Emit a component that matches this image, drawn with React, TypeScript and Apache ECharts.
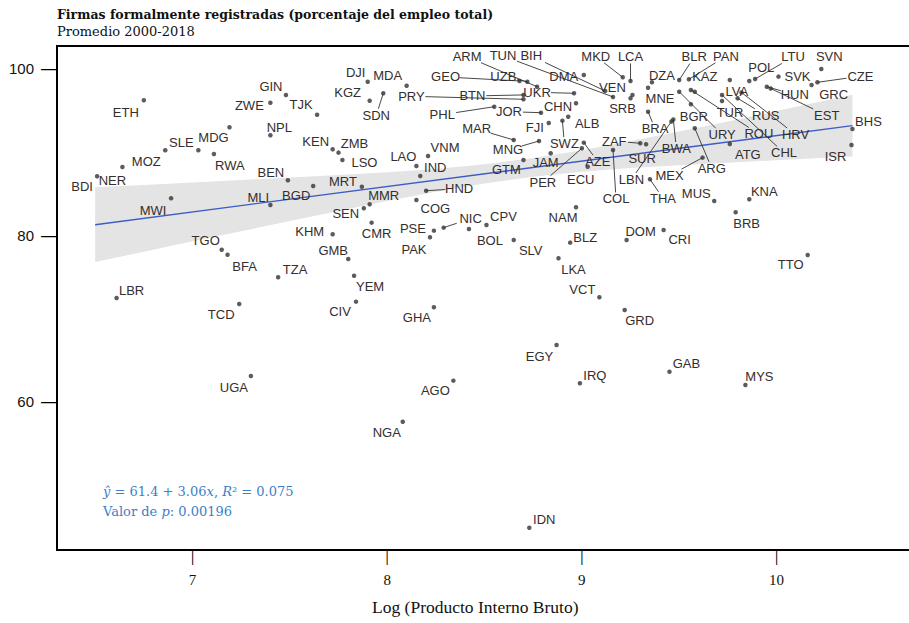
import React, { useEffect, useRef } from "react";
import * as echarts from "echarts";

// ISO3 country codes (each row = 10 countries)
const codes = [
  "BDI", "NER", "MOZ", "SLE", "MDG", "RWA", "ETH", "GIN", "ZWE", "TJK",
  "NPL", "BEN", "BGD", "MLI", "MWI", "KEN", "ZMB", "LSO", "KHM", "MRT",
  "SEN", "MMR", "CMR", "GMB", "YEM", "CIV", "TGO", "BFA", "TZA", "LBR",
  "TCD", "UGA", "AGO", "NGA", "GHA", "DJI", "MDA", "KGZ", "SDN", "PRY",
  "BTN", "GEO", "UZB", "ARM", "TUN", "BIH", "DMA", "MKD", "LCA", "VEN",
  "SRB", "UKR", "CHN", "JOR", "PHL", "FJI", "ALB", "SWZ", "MAR", "MNG",
  "VNM", "LAO", "IND", "HND", "COG", "GTM", "JAM", "PER", "AZE", "ECU",
  "ZAF", "SUR", "COL", "BRA", "LBN", "BWA", "THA", "MEX", "ARG", "MUS",
  "KNA", "BRB", "DOM", "CRI", "TTO", "GRD", "GAB", "MYS", "IRQ", "EGY",
  "IDN", "VCT", "LKA", "BLZ", "NAM", "SLV", "BOL", "CPV", "NIC", "PSE",
  "PAK", "BGR", "URY", "ROU", "HRV", "CHL", "TUR", "RUS", "LVA", "BLR",
  "PAN", "KAZ", "DZA", "MNE", "POL", "LTU", "SVK", "SVN", "CZE", "GRC",
  "HUN", "EST", "BHS", "ISR", "ATG",
];

// Log (GDP) — same order as codes
const logGdp = [
  6.51, 6.64, 6.86, 7.03, 7.19, 7.11, 6.75, 7.48, 7.40, 7.64,
  7.40, 7.49, 7.62, 7.40, 6.89, 7.72, 7.75, 7.77, 7.72, 7.87,
  7.88, 7.91, 7.92, 7.80, 7.83, 7.84, 7.15, 7.18, 7.44, 6.61,
  7.24, 7.30, 8.34, 8.08, 8.24, 7.90, 8.10, 7.91, 7.98, 8.70,
  8.70, 8.68, 8.72, 8.77, 9.16, 9.12, 9.01, 9.21, 9.25, 9.26,
  9.25, 8.96, 8.97, 8.79, 8.55, 8.83, 8.93, 8.90, 8.65, 8.78,
  8.21, 8.15, 8.17, 8.20, 8.15, 8.70, 8.84, 9.00, 9.01, 9.03,
  9.30, 9.33, 9.16, 9.34, 9.46, 9.47, 9.35, 9.62, 9.58, 9.68,
  9.86, 9.79, 9.23, 9.42, 10.16, 9.22, 9.45, 9.84, 8.99, 8.87,
  8.73, 9.09, 8.88, 8.94, 8.97, 8.65, 8.42, 8.51, 8.29, 8.24,
  8.22, 9.56, 9.50, 9.56, 9.82, 9.72, 9.72, 9.80, 9.76, 9.50,
  9.55, 9.58, 9.36, 9.34, 9.86, 9.89, 10.01, 10.23, 10.21, 10.18,
  9.95, 9.97, 10.39, 10.385, 9.76,
];

// Formally registered firms (% of total employment) — same order as codes
const formalShare = [
  87.11, 88.23, 90.23, 90.23, 93.00, 89.79, 96.24, 96.88, 95.95, 94.51,
  92.04, 86.63, 85.95, 83.66, 84.47, 90.35, 89.95, 89.07, 80.14, 85.86,
  83.27, 83.75, 81.54, 77.18, 75.17, 72.05, 78.29, 77.69, 74.98, 72.49,
  71.77, 63.12, 62.56, 57.63, 71.38, 98.47, 97.99, 96.19, 97.08, 96.36,
  96.88, 98.56, 98.47, 97.87, 96.64, 97.36, 99.28, 99.00, 98.56, 96.88,
  96.48, 97.08, 95.88, 94.75, 95.47, 93.51, 94.27, 93.79, 91.47, 91.35,
  89.55, 88.35, 87.15, 85.38, 84.26, 89.07, 89.87, 90.47, 91.15, 88.26,
  91.08, 90.95, 90.27, 94.87, 93.69, 93.93, 86.75, 89.35, 92.88, 84.14,
  84.35, 82.79, 79.46, 80.66, 77.66, 71.05, 63.64, 62.04, 62.25, 66.85,
  44.90, 72.58, 77.26, 79.14, 83.39, 79.46, 80.78, 81.26, 80.94, 80.58,
  79.78, 95.76, 97.27, 97.48, 97.18, 96.88, 96.16, 96.48, 98.68, 98.68,
  98.76, 97.27, 98.40, 97.75, 98.56, 98.80, 99.08, 100.00, 98.40, 98.08,
  97.87, 97.66, 92.79, 90.87, 90.99,
];

// Axis ticks and ranges
const xTicks = [7, 8, 9, 10];
const yTicks = [60, 80, 100];
const xRange = [6.304, 10.701];
const yRange = [42.22, 102.76];

// Fitted regression line (ŷ = 61.4 + 3.06x) end points
const fitX = [6.5, 10.39];
const fitY = [81.29, 93.19];

// Confidence band of the fit
const bandX = [6.5, 6.75, 7.0, 7.25, 7.5, 7.75, 8.0, 8.25, 8.5, 8.75, 9.0, 9.25, 9.5, 9.75, 10.0, 10.25, 10.39];
const bandLow = [76.8, 78.05, 79.3, 80.5, 81.75, 82.95, 84.15, 85.25, 86.25, 87.05, 87.65, 88.1, 88.45, 88.75, 89.05, 89.35, 89.5];
const bandHigh = [85.8, 86.05, 86.35, 86.65, 86.95, 87.25, 87.6, 88.0, 88.55, 89.3, 90.25, 91.35, 92.5, 93.7, 94.95, 96.2, 96.9];

const titleText = "Firmas formalmente registradas (porcentaje del empleo total)";
const subtitleText = "Promedio 2000-2018";
const xTitle = "Log (Producto Interno Bruto)";

// Layout only: label centre offsets (px) relative to each point (repelled labels)
const labelOffsets: Record<string, [number, number]> = {
  BDI: [-15, 10], NER: [-10, 14], MOZ: [-19, 11], SLE: [-17, -8], MDG: [-16, 10],
  RWA: [16, 12], ETH: [-18, 12], GIN: [-15, -8], ZWE: [-21, 3], TJK: [-16, -10],
  NPL: [9, -8], BEN: [-17, -8], BGD: [-17, 10], MLI: [-12, -8], MWI: [-18, 12],
  KEN: [-17, -8], ZMB: [16, -9], LSO: [22, 3], KHM: [-23, -3], MRT: [-19, -5],
  SEN: [-18, 5], MMR: [14, -9], CMR: [5, 11], GMB: [-15, -8], YEM: [16, 11],
  CIV: [-16, 10], TGO: [-16, -9], BFA: [17, 12], TZA: [17, -8], LBR: [15, -8],
  TCD: [-18, 11], UGA: [-17, 11], AGO: [-18, 10], NGA: [-16, 11], GHA: [-17, 10],
  DJI: [-12, -9], MDA: [-19, -10], KGZ: [-22, -8], SDN: [-7, 22], PRY: [-112, -3],
  BTN: [-51, 1], GEO: [-74, -4], UZB: [-24, -5], ARM: [-70, -30], TUN: [-110, -41],
  BIH: [-74, -35], DMA: [-20, 2], MKD: [-27, -21], LCA: [0, -24], VEN: [-20, -7],
  SRB: [-8, 10], UKR: [-37, -1], CHN: [-18, 3], JOR: [-32, -1], PHL: [-52, 8],
  FJI: [-14, 4], ALB: [19, 7], SWZ: [2, 23], MAR: [-37, -11], MNG: [-31, 9],
  VNM: [17, -8], LAO: [-13, -9], IND: [15, -8], HND: [33, -2], COG: [19, 8],
  GTM: [-17, 10], JAM: [-5, 9], PER: [-39, 34], AZE: [14, 19], ECU: [-7, 13],
  ZAF: [-26, -2], SUR: [-4, 14], COL: [3, 49], BRA: [7, 17], LBN: [-40, 58],
  BWA: [3, 29], THA: [13, 19], MEX: [-33, 18], ARG: [17, 40], MUS: [-18, -8],
  KNA: [15, -8], BRB: [11, 11], DOM: [14, -8], CRI: [16, 10], TTO: [-17, 10],
  GRD: [15, 11], GAB: [17, -8], MYS: [14, -8], IRQ: [15, -8], EGY: [-17, 12],
  IDN: [15, -8], VCT: [-17, -8], LKA: [15, 11], BLZ: [15, -5], NAM: [-13, 10],
  SLV: [17, 11], BOL: [21, 12], CPV: [17, -8], NIC: [27, -9], PSE: [-21, -2],
  PAK: [-16, 12], BGR: [3, 12], URY: [43, 43], ROU: [68, 44], HRV: [54, 42],
  CHL: [62, 58], TUR: [8, 12], RUS: [28, 17], LVA: [7, 12], BLR: [15, -23],
  PAN: [37, -23], KAZ: [10, -15], DZA: [10, -7], MNE: [12, 11], POL: [12, -13],
  LTU: [38, -22], SVK: [19, 0], SVN: [8, -12], CZE: [43, -6], GRC: [22, 10],
  HUN: [28, 8], EST: [56, 27], BHS: [16, -8], ISR: [-16, 12], ATG: [18, 11],
};

export default function App() {
  const ref = useRef<HTMLDivElement>(null);

  useEffect(() => {
    if (!ref.current) return;
    const chart = echarts.init(ref.current, null, { renderer: "svg" });

    const pointData = codes.map((c, i) => [logGdp[i], formalShare[i]]);

    const option: any = {
      animation: false,
      backgroundColor: "#ffffff",
      grid: {
        left: 57,
        right: -4,
        top: 46,
        bottom: 73,
        show: true,
        borderColor: "#000",
        borderWidth: 2,
        backgroundColor: "transparent",
        outerBoundsMode: "none",
        containLabel: false,
      },
      xAxis: {
        type: "value",
        min: xRange[0],
        max: xRange[1],
        splitLine: { show: false },
        axisLine: { show: false },
        axisTick: { show: false },
        axisLabel: {
          customValues: xTicks,
          margin: 1,
          formatter: (v: number) => `{t|│}\n{v|${v}}`,
          rich: {
            t: { fontFamily: "DejaVu Sans Mono", fontSize: 12, lineHeight: 14, color: "#000" },
            v: { fontFamily: "Liberation Serif", fontSize: 15, color: "#111", lineHeight: 30 },
          },
        },
      },
      yAxis: {
        type: "value",
        min: yRange[0],
        max: yRange[1],
        splitLine: { show: false },
        axisLine: { show: false },
        axisTick: { show: false },
        axisLabel: {
          customValues: yTicks,
          margin: 0,
          formatter: (v: number) => `{v|${v}}{t|—}`,
          rich: {
            t: { fontFamily: "Liberation Sans", fontSize: 16, color: "#000" },
            v: { fontFamily: "Liberation Sans", fontSize: 15, color: "#111", padding: [0, 7, 0, 0] },
          },
        },
      },
      series: [
        {
          type: "custom",
          name: "band",
          silent: true,
          z: 1,
          clip: false,
          data: [[bandX[0], bandLow[0]]],
          encode: { x: 0, y: 1 },
          renderItem: (params: any, api: any) => {
            const upper = bandX.map((x, i) => api.coord([x, bandHigh[i]]));
            const lower = bandX.map((x, i) => api.coord([x, bandLow[i]])).reverse();
            return {
              type: "polygon",
              shape: { points: upper.concat(lower), smooth: 0 },
              style: { fill: "#e4e4e4", stroke: null },
            };
          },
        },
        {
          type: "line",
          name: "fit",
          silent: true,
          z: 2,
          symbol: "none",
          data: fitX.map((x, i) => [x, fitY[i]]),
          lineStyle: { color: "#3c5cc6", width: 1.3 },
        },
        {
          type: "scatter",
          name: "countries",
          z: 3,
          symbolSize: 4.5,
          itemStyle: { color: "#333333" },
          data: pointData,
        },
        {
          type: "custom",
          name: "labels",
          silent: true,
          z: 4,
          clip: false,
          data: pointData,
          encode: { x: 0, y: 1 },
          renderItem: (params: any, api: any) => {
            const i = params.dataIndex;
            const name = codes[i];
            const p = api.coord([api.value(0), api.value(1)]);
            const off = labelOffsets[name] || [0, -12];
            const dx = off[0];
            const dy = off[1];
            const cx = p[0] + dx;
            const cy = p[1] + dy;
            const hw = name.length * 4.3 + 1;
            const hh = 6.5;
            const children: any[] = [];
            const gx = Math.max(0, Math.abs(dx) - hw);
            const gy = Math.max(0, Math.abs(dy) - hh);
            if (Math.hypot(gx, gy) > 10) {
              const tx = Math.abs(dx) > 1e-6 ? hw / Math.abs(dx) : Infinity;
              const ty = Math.abs(dy) > 1e-6 ? hh / Math.abs(dy) : Infinity;
              const t = Math.min(tx, ty);
              const ex = cx - dx * t;
              const ey = cy - dy * t;
              children.push({
                type: "line",
                shape: { x1: p[0], y1: p[1], x2: ex, y2: ey },
                style: { stroke: "#333", lineWidth: 0.9 },
              });
            }
            children.push({
              type: "text",
              x: cx,
              y: cy,
              style: {
                text: name,
                align: "center",
                verticalAlign: "middle",
                fontSize: 13,
                fontFamily: "Liberation Sans",
                fill: "#342e2e",
              },
            });
            return { type: "group", children };
          },
        },
      ],
      graphic: [
        {
          type: "text",
          left: 57,
          top: 8,
          style: { text: titleText, font: 'bold 12.5px "DejaVu Serif"', fill: "#111" },
        },
        {
          type: "text",
          left: 57,
          top: 25,
          style: { text: subtitleText, font: '13px "DejaVu Serif"', fill: "#111" },
        },
        {
          type: "text",
          left: 372,
          top: 598,
          style: { text: xTitle, font: '17.5px "Liberation Serif"', fill: "#111" },
        },
        {
          type: "text",
          left: 103,
          top: 485,
          style: {
            text: "{i|ŷ} = 61.4 + 3.06{i|x}, {i|R}² = 0.075",
            font: '13px "DejaVu Serif"',
            fill: "#3d7fc7",
            rich: { i: { fontStyle: "italic", fontFamily: "DejaVu Serif", fontSize: 13, color: "#3d7fc7" } },
          },
        },
        {
          type: "text",
          left: 103,
          top: 505,
          style: {
            text: "Valor de {i|p}: 0.00196",
            font: '13px "DejaVu Serif"',
            fill: "#3d7fc7",
            rich: { i: { fontStyle: "italic", fontFamily: "DejaVu Serif", fontSize: 13, color: "#3d7fc7" } },
          },
        },
      ],
    };

    chart.setOption(option);

    return () => {
      chart.dispose();
    };
  }, []);

  return (
    <div
      ref={ref}
      style={{ position: "absolute", left: 0, top: 0, width: 909, height: 623 }}
    />
  );
}
